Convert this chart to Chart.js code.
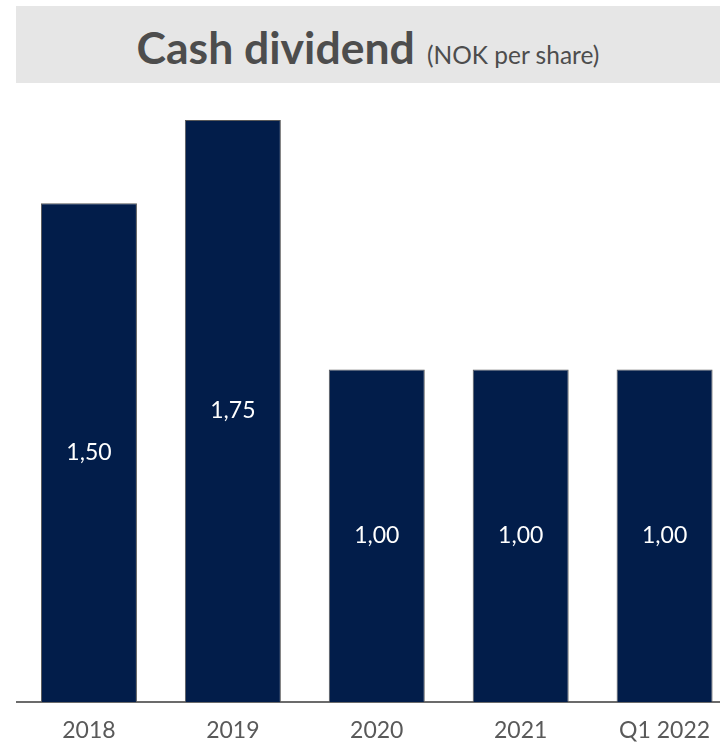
<!DOCTYPE html>
<html>
<head>
<meta charset="utf-8">
<script src="https://cdn.jsdelivr.net/npm/chart.js@4"></script>
<style>
  body { margin: 0; background: #fff; font-family: Lato, sans-serif; }
  #wrap { position: relative; width: 720px; height: 742px; }
  .titre {
    position: absolute; left: 16px; top: 6px; width: 704px; height: 77px;
    box-sizing: border-box; padding-top: 5px;
    background: #e6e6e6; color: #4d4d4d;
    text-align: center; line-height: 72px; white-space: nowrap;
  }
  .titre b { font-size: 44.5px; }
  .titre span { font-size: 24.5px; margin-left: 8px; }
  canvas { position: absolute; left: 0; top: 0; }
</style>
</head>
<body>
<div id="wrap">
  <canvas id="graphique-dividende" width="720" height="742"></canvas>
  <div class="titre"><b>Cash dividend</b> <span>(NOK per share)</span></div>
</div>
<script>
// Années et dividende versé (NOK par action)
const annees = ["2018", "2019", "2020", "2021", "Q1 2022"]
const dividende = [1.5, 1.75, 1, 1, 1]

/* Format norvégien : virgule décimale */
const formatNok = (v) => v.toFixed(2).replace(".", ",")

/* Écrit la valeur au milieu de chaque barre */
const valeursBarres = {
  id: "valeursBarres",
  afterDatasetsDraw(chart) {
    const ctx = chart.ctx
    const meta = chart.getDatasetMeta(0)
    ctx.save()
    ctx.fillStyle = "#ffffff"
    ctx.font = "23px Lato"
    ctx.textAlign = "center"
    ctx.textBaseline = "middle"
    meta.data.forEach((bar, i) => {
      ctx.fillText(formatNok(dividende[i]), bar.x, (bar.y + bar.base) / 2)
    })
    ctx.restore()
  },
}

const data = {
  datasets: [
    {
      label: "Cash dividend",
      data: dividende.map((v, i) => ({ x: i, y: v })),
      backgroundColor: "#021d4a",
      borderColor: "#595959",
      borderWidth: 1,
      barPercentage: 0.667,
      categoryPercentage: 1,
    },
  ],
}

const config = {
  type: "bar",
  data: data,
  options: {
    responsive: false,
    animation: false,
    layout: { padding: { left: 17, right: 0, top: 120, bottom: 0 } },
    plugins: { legend: { display: false }, tooltip: { enabled: false } },
    scales: {
      x: {
        type: "linear",
        offset: false,
        bounds: "data",
        min: -0.5,
        max: 4.385,
        grid: { display: false, drawTicks: false, offset: false },
        border: { display: true, color: "#6b6b6b", width: 2 },
        // un tick par année, centré sous sa barre
        afterBuildTicks: (scale) => {
          scale.ticks = annees.map((_, i) => ({ value: i }))
        },
        ticks: {
          autoSkip: false,
          maxRotation: 0,
          padding: 15,
          color: "#595959",
          font: { family: "Lato", size: 23 },
          callback: (v) => annees[v] ?? "",
        },
        afterFit: (scale) => {
          scale.height = 40
          // pas de marge réservée pour les libellés aux extrémités
          scale.paddingLeft = 0
          scale.paddingRight = 0
        },
      },
      y: { display: false, min: 0, max: 1.75 },
    },
  },
  plugins: [valeursBarres],
}

new Chart(document.querySelector("#graphique-dividende"), config)
</script>
</body>
</html>
